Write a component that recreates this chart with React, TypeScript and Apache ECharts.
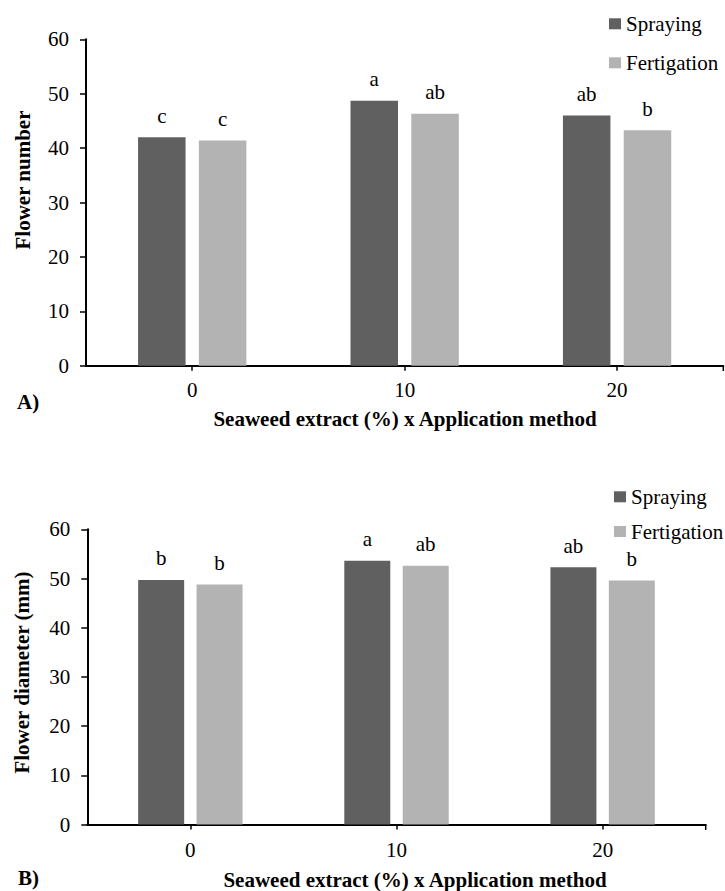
import React, { useEffect, useRef } from "react";
import * as echarts from "echarts";

const categories = ["0", "10", "20"];
const seriesNames = ["Spraying", "Fertigation"];

const numberSpraying = [42.0, 48.7, 46.0];
const numberFertigation = [41.4, 46.3, 43.3];
const numberLettersSpraying = ["c", "a", "ab"];
const numberLettersFertigation = ["c", "ab", "b"];

const diameterSpraying = [49.7, 53.6, 52.3];
const diameterFertigation = [48.8, 52.6, 49.6];
const diameterLettersSpraying = ["b", "a", "ab"];
const diameterLettersFertigation = ["b", "ab", "b"];

const yTicks = { min: 0, max: 60, interval: 10 };

const FONT = "Liberation Serif";
const DARK = "#606060";
const LIGHT = "#b3b3b3";

export default function App() {
  const ref = useRef<HTMLDivElement>(null);

  useEffect(() => {
    if (!ref.current) return;
    const chart = echarts.init(ref.current, null, { renderer: "svg" });

    const xAxisBase = (gridIndex: number, margin: number) => ({
      type: "category",
      gridIndex,
      data: categories,
      axisLine: { show: true, lineStyle: { color: "#000", width: 2 } },
      axisTick: { show: true, alignWithLabel: true, length: 5, lineStyle: { color: "#000", width: 1.5 } },
      axisLabel: { color: "#000", fontSize: 21, fontFamily: FONT, margin },
      splitLine: { show: false },
    });
    const yAxisBase = (gridIndex: number) => ({
      type: "value",
      gridIndex,
      min: yTicks.min,
      max: yTicks.max,
      interval: yTicks.interval,
      axisLine: { show: true, lineStyle: { color: "#000", width: 2 } },
      axisTick: { show: true, length: 6, lineStyle: { color: "#000", width: 1.5 } },
      axisLabel: { color: "#000", fontSize: 21, fontFamily: FONT, margin: 17 },
      splitLine: { show: false },
    });

    const barSeries = (
      name: string,
      data: number[],
      letters: string[],
      color: string,
      axisIndex: number,
      barWidth: number,
      barGap: string
    ) => ({
      type: "bar",
      name,
      data,
      xAxisIndex: axisIndex,
      yAxisIndex: axisIndex,
      barWidth,
      barGap,
      itemStyle: { color },
      label: {
        show: true,
        position: "top",
        distance: 11,
        color: "#000",
        fontSize: 21,
        fontFamily: FONT,
        formatter: (p: any) => letters[p.dataIndex],
      },
    });

    const legendBase = (top: number, left: number, itemGap: number) => ({
      orient: "vertical",
      left,
      top,
      padding: 0,
      itemWidth: 12,
      itemHeight: 11,
      itemGap,
      icon: "rect",
      selectedMode: false,
      data: seriesNames,
      textStyle: { color: "#000", fontSize: 21, lineHeight: 21, fontFamily: FONT },
    });

    const boldText = (text: string, x: number, y: number, align: string, rotation = 0) => ({
      type: "text",
      x,
      y,
      rotation,
      style: {
        text,
        align,
        verticalAlign: "middle",
        fontFamily: FONT,
        fontWeight: "bold",
        fontSize: 21,
        fill: "#000",
      },
    });

    const option: any = {
      animation: false,
      backgroundColor: "#fff",
      textStyle: { fontFamily: FONT },
      grid: [
        { left: 86, top: 39.3, width: 637.3, height: 326.4, containLabel: false },
        { left: 87.3, top: 529.3, width: 618.4, height: 295.2, containLabel: false },
      ],
      legend: [legendBase(13.3, 609, 18), legendBase(486.3, 614, 13.7)],
      xAxis: [xAxisBase(0, 14), xAxisBase(1, 15)],
      yAxis: [yAxisBase(0), yAxisBase(1)],
      series: [
        barSeries(seriesNames[0], numberSpraying, numberLettersSpraying, DARK, 0, 47.5, "28%"),
        barSeries(seriesNames[1], numberFertigation, numberLettersFertigation, LIGHT, 0, 47.5, "28%"),
        barSeries(seriesNames[0], diameterSpraying, diameterLettersSpraying, DARK, 1, 46, "27%"),
        barSeries(seriesNames[1], diameterFertigation, diameterLettersFertigation, LIGHT, 1, 46, "27%"),
      ],
      graphic: [
        boldText("A)", 17, 401.7, "left"),
        boldText("B)", 18, 877.5, "left"),
        boldText("Seaweed extract (%) x Application method", 405, 419, "center"),
        boldText("Seaweed extract (%) x Application method", 415, 879.5, "center"),
        boldText("Flower number", 23.3, 180, "center", Math.PI / 2),
        boldText("Flower diameter (mm)", 21.7, 672.5, "center", Math.PI / 2),
        {
          type: "line",
          shape: { x1: 723.3, y1: 366, x2: 723.3, y2: 371 },
          style: { stroke: "#000", lineWidth: 1.5 },
        },
        {
          type: "line",
          shape: { x1: 705.7, y1: 824.5, x2: 705.7, y2: 830 },
          style: { stroke: "#000", lineWidth: 1.5 },
        },
      ],
    };

    chart.setOption(option);
    return () => chart.dispose();
  }, []);

  return (
    <div
      ref={ref}
      style={{ position: "absolute", left: 0, top: 0, width: 725, height: 891, background: "#fff" }}
    />
  );
}
